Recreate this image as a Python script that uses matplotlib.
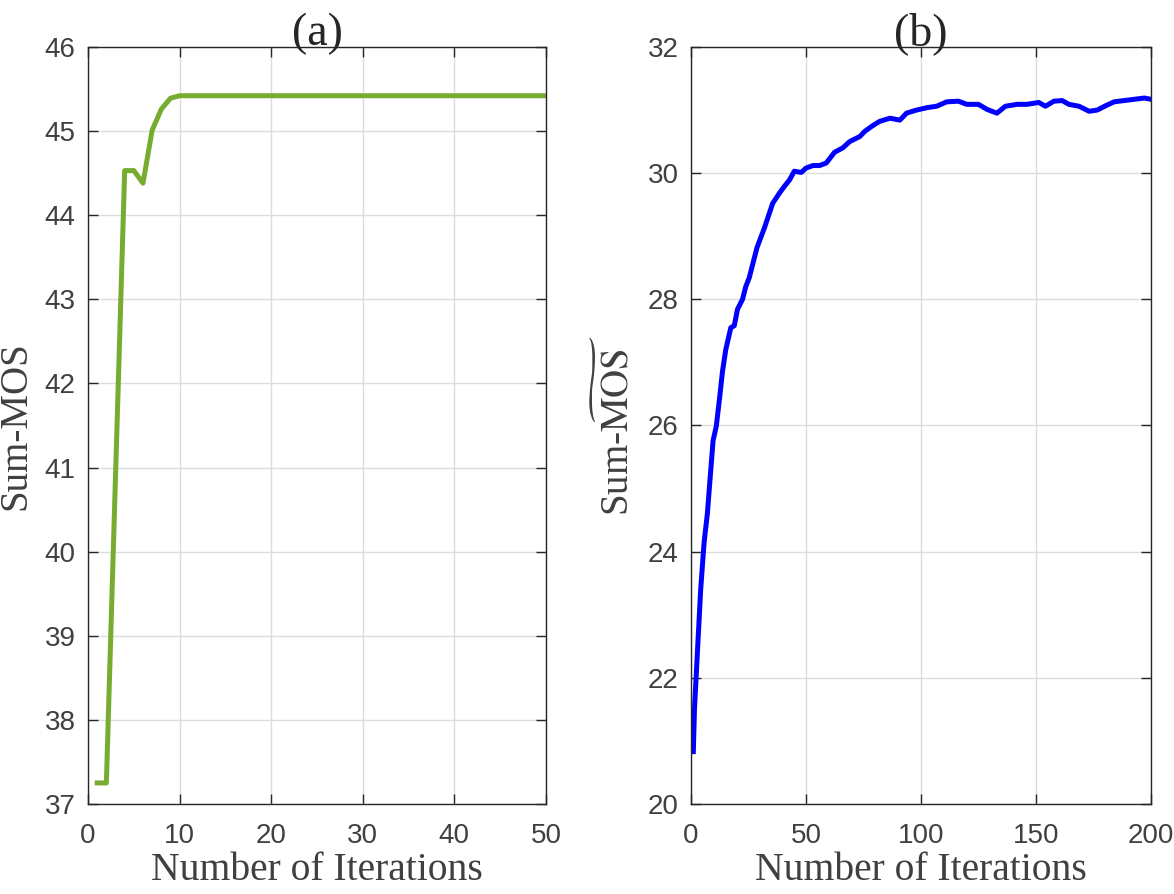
import matplotlib.pyplot as plt

# (a) Sum-MOS against iteration
iter_a = [1, 2, 3, 4, 5, 6, 7, 8, 9, 10, 15, 20, 30, 40, 50]
mos_a = [37.25, 37.25, 40.9, 44.53, 44.53, 44.38, 45.01, 45.26, 45.39, 45.42,
         45.42, 45.42, 45.42, 45.42, 45.42]

# (b) Sum-MOS (tilde) against iteration
iter_b = [1, 1.5, 2.8, 4.2, 5.7, 7.1, 8.6, 9.6, 11, 12.5, 13.7, 15.1, 17.3, 18.8,
          20.2, 22.4, 23.8, 25.3, 28.7, 31.9, 35.5, 38.4, 40.6, 42.8, 44.9, 47.9,
          50, 53, 55.9, 58.8, 62.4, 66, 69, 73.4, 75.5, 78.5, 82, 86.5, 90.8,
          93.7, 98.1, 103, 106.8, 111.2, 116.3, 119.9, 125, 128.7, 133, 136.7,
          141.8, 146.1, 151.2, 154.1, 157.8, 161.4, 164.3, 168.7, 173.1, 176.7,
          180.4, 184, 188.4, 192.7, 197.1, 200]
mos_b = [20.83, 21.5, 22.42, 23.4, 24.15, 24.6, 25.3, 25.76, 25.99, 26.46, 26.86,
         27.2, 27.55, 27.58, 27.84, 28.0, 28.2, 28.34, 28.82, 29.13, 29.52, 29.68,
         29.79, 29.89, 30.03, 30.01, 30.08, 30.12, 30.12, 30.16, 30.33, 30.4,
         30.5, 30.58, 30.66, 30.74, 30.82, 30.87, 30.84, 30.95, 31.0, 31.04,
         31.06, 31.13, 31.14, 31.09, 31.09, 31.01, 30.95, 31.06, 31.09, 31.09,
         31.12, 31.06, 31.14, 31.15, 31.09, 31.06, 30.98, 31.0, 31.07, 31.13,
         31.15, 31.17, 31.19, 31.17]

plt.rcParams['mathtext.fontset'] = 'stix'

fig = plt.figure(figsize=(11.74, 8.94), dpi=100)
ax1 = fig.add_axes([0.075, 0.1007, 0.390, 0.8468])
ax2 = fig.add_axes([0.5886, 0.1007, 0.3918, 0.8468])

serif = 'Liberation Serif'
sans = 'Liberation Sans'
txt = '#404040'

ax1.plot(iter_a, mos_a, color='#77AC30', lw=3.6)
ax1.set_xlim(0, 50)
ax1.set_ylim(37, 46)
ax1.set_xticks(range(0, 51, 10))
ax1.set_yticks(range(37, 47))
ax1.set_title('(a)', family=serif, fontsize=33, pad=1, color='#262626')
ax1.set_xlabel('Number of Iterations', family=serif, fontsize=28.5, labelpad=2, color=txt)
ax1.set_ylabel('Sum-MOS', family=serif, fontsize=28, labelpad=7, color=txt)

ax2.plot(iter_b, mos_b, color='#0000FF', lw=3.6)
ax2.set_xlim(0, 200)
ax2.set_ylim(20, 32)
ax2.set_xticks(range(0, 201, 50))
ax2.set_yticks(range(20, 33, 2))
ax2.set_title('(b)', family=serif, fontsize=33, pad=1, color='#262626')
ax2.set_xlabel('Number of Iterations', family=serif, fontsize=28.5, labelpad=2, color=txt)
ax2.set_ylabel(r'Sum-$\widetilde{\mathrm{MOS}}$', family=serif, fontsize=28,
               labelpad=7, color=txt)

for ax in (ax1, ax2):
    ax.grid(True, color='#dcdcdc', lw=1)
    ax.set_axisbelow(True)
    ax.tick_params(direction='in', top=True, right=True, length=7, width=1,
                   labelsize=20, colors='#262626', labelcolor=txt)
    ax.tick_params(axis='x', pad=14)
    ax.tick_params(axis='y', pad=9)
    for lab in ax.get_xticklabels() + ax.get_yticklabels():
        lab.set_family(sans)
    for s in ax.spines.values():
        s.set_color('#262626')
        s.set_linewidth(1)

fig.savefig('out.png', dpi=100)
